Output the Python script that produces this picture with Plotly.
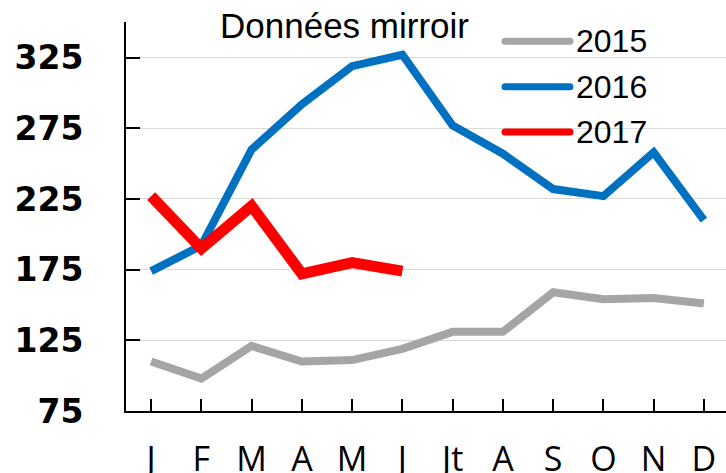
import plotly.graph_objects as go

months = ["J", "F", "M", "A", "M", "J", "Jt", "A", "S", "O", "N", "D"]
y2015 = [110, 98, 121, 110, 111, 119, 131, 131, 159, 154, 155, 151]
y2016 = [174, 192, 260, 292, 319, 327, 277, 257, 232, 227, 258, 210]
y2017 = [227, 190, 220, 172, 180, 174]
series_names = ["2015", "2016", "2017"]
series_colors = ["#A5A5A5", "#0070C0", "#FF0000"]
series_widths = [8, 8, 11]
y_ticks = [75, 125, 175, 225, 275, 325]
title_text = "Données mirroir"

W, H = 726, 473
ML, MR, MT, MB = 126, 0, 22, 62
PW, PH = W - ML - MR, H - MT - MB


def px_x(x):
    return (x - ML) / PW


def px_y(y):
    return 1 - (y - MT) / PH


xs = list(range(len(months)))
fig = go.Figure()
for name, vals, col, w in zip(series_names, [y2015, y2016, y2017], series_colors, series_widths):
    fig.add_trace(go.Scatter(
        x=xs[:len(vals)], y=vals, mode="lines", name=name,
        line=dict(color=col, width=w), showlegend=False, hoverinfo="skip",
    ))

# manual legend
leg_y = [41.3, 86.7, 132.0]
for name, col, yy in zip(series_names, series_colors, leg_y):
    fig.add_shape(
        type="path", xref="paper", yref="paper",
        xsizemode="pixel", ysizemode="pixel",
        xanchor=px_x(501.5), yanchor=px_y(yy),
        path="M3.5,-3.5 L68.5,-3.5 Q72,-3.5 72,0 Q72,3.5 68.5,3.5 L3.5,3.5 Q0,3.5 0,0 Q0,-3.5 3.5,-3.5 Z",
        fillcolor=col, line=dict(width=0),
    )
    fig.add_annotation(
        x=px_x(574), y=px_y(yy), xref="paper", yref="paper",
        text=name, showarrow=False, xanchor="left", yanchor="middle",
        font=dict(family="Liberation Sans, Arial", size=32, color="black"),
    )

fig.add_annotation(
    x=px_x(344), y=px_y(26), xref="paper", yref="paper",
    text=title_text, showarrow=False, xanchor="center", yanchor="middle",
    font=dict(family="Liberation Sans, Arial", size=35, color="black"),
)

fig.update_layout(
    width=W, height=H,
    margin=dict(l=ML, r=MR, t=MT, b=MB, pad=0, autoexpand=False),
    plot_bgcolor="white", paper_bgcolor="white",
    showlegend=False,
)
fig.update_xaxes(
    automargin=False,
    range=[-0.5, 11.44], tickmode="array", tickvals=xs, ticktext=months,
    tickson="boundaries", ticks="inside", ticklen=12, tickwidth=2, tickcolor="black",
    showline=True, linecolor="black", linewidth=2, showgrid=False, zeroline=False,
    tickfont=dict(family="Open Sans", size=34, color="black"),
    ticklabelstandoff=17,
)
fig.update_yaxes(
    automargin=False,
    range=[75, 75 + PH / 1.4135], tickmode="array", tickvals=y_ticks,
    ticks="inside", ticklen=14, tickwidth=2, tickcolor="black",
    showline=True, linecolor="black", linewidth=2,
    showgrid=True, gridcolor="#D9D9D9", gridwidth=1, zeroline=False,
    tickfont=dict(family="DejaVu Sans", size=33, color="black", weight="bold"),
    ticklabelstandoff=34,
)
fig.write_html(
    "out.html",
    config={"displayModeBar": False, "staticPlot": True},
    post_script="document.body.style.margin='0';document.body.style.overflow='hidden';",
)
